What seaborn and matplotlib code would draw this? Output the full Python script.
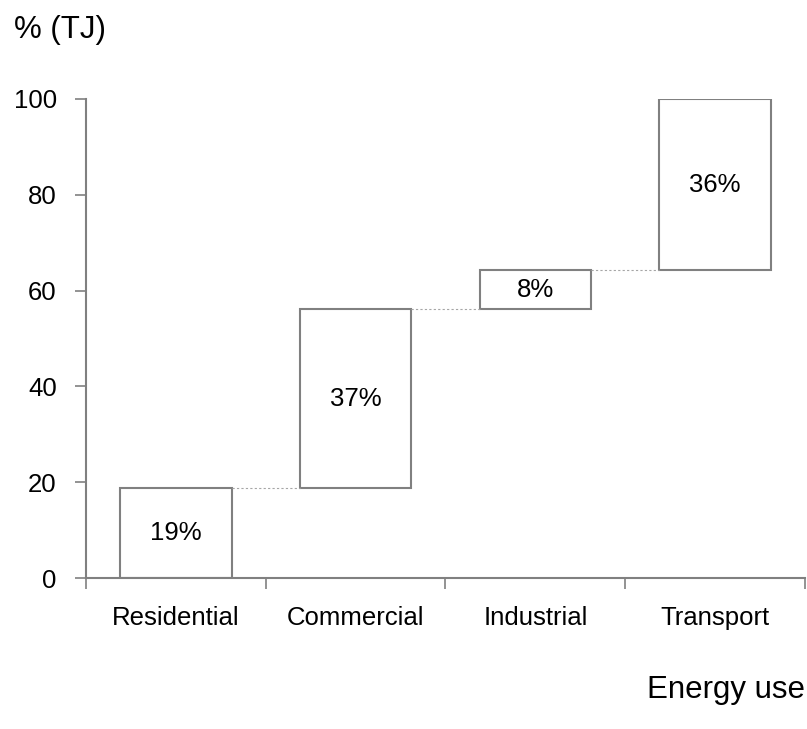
import matplotlib
matplotlib.use("Agg")
import matplotlib.pyplot as plt
import seaborn as sns
import numpy as np
import pandas as pd

categories = ["Residential", "Commercial", "Industrial", "Transport"]
values = [18.7, 37.5, 8.0, 35.8]
labels = ["19%", "37%", "8%", "36%"]
y_ticks = [0, 20, 40, 60, 80, 100]

sns.set_theme(style="white")
plt.rcParams["font.family"] = ["Liberation Sans", "DejaVu Sans"]
plt.rcParams["text.color"] = "black"

tops = np.cumsum(values)
bottoms = tops - np.array(values)
df = pd.DataFrame({"cat": categories, "val": values, "bottom": bottoms})

fig = plt.figure(figsize=(8.07, 7.29), dpi=100)
ax = fig.add_axes([86/807, 1-578/729, (805-86)/807, (578-99)/729])

gray = "#808080"
width = 0.62
fs = 18.5
sns.barplot(data=df, x="cat", y="val", bottom=df["bottom"], color="white",
            edgecolor=gray, linewidth=1.5, width=width, ax=ax, saturation=1)

# connectors
for i in range(len(categories) - 1):
    ax.plot([i + width/2, i + 1 - width/2], [tops[i], tops[i]],
            linestyle=(0, (2, 2)), color="#a6a6a6", linewidth=0.8)

for i, (b, v, lab) in enumerate(zip(bottoms, values, labels)):
    ax.text(i, b + v/2, lab, ha="center", va="center", fontsize=fs, color="black")

ax.set_ylim(0, 100)
ax.set_xlim(-0.5, len(categories) - 0.5)
ax.set_yticks(y_ticks)
ax.set_yticklabels([str(t) for t in y_ticks], fontsize=fs)
ax.set_xticks(range(len(categories)))
ax.set_xticklabels(categories, fontsize=fs)
ax.set_xticks(np.arange(-0.5, len(categories), 1.0), minor=True)
ax.tick_params(axis="x", which="major", bottom=True, length=0, pad=20, labelcolor="black")
ax.tick_params(axis="x", which="minor", bottom=True, length=8, width=1.2, color=gray, direction="out")
ax.tick_params(axis="y", which="major", left=True, length=8, width=1.2, color=gray, direction="out", pad=13, labelcolor="black")
ax.set_xlabel("")
ax.set_ylabel("")

for s in ["top", "right"]:
    ax.spines[s].set_visible(False)
for s in ["left", "bottom"]:
    ax.spines[s].set_color(gray)
    ax.spines[s].set_linewidth(1.5)

fig.text(14/807, 1-30/729, "% (TJ)", fontsize=22.5, ha="left", va="center", color="black")
fig.text(805/807, 1-690/729, "Energy use", fontsize=22.5, ha="right", va="center", color="black")

fig.savefig("out.png", dpi=100, facecolor="white")
